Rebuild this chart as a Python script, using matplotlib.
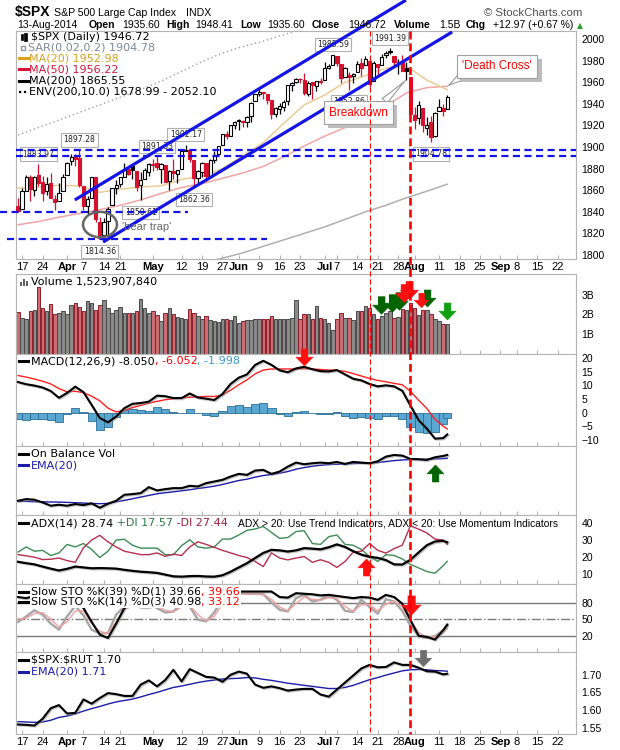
import numpy as np
import pandas as pd
import matplotlib
matplotlib.use("Agg")
import matplotlib.pyplot as plt
from matplotlib.lines import Line2D
from matplotlib.patches import Ellipse, Rectangle
import matplotlib.patheffects as pe

plt.rcParams['font.family'] = ['Liberation Sans', 'DejaVu Sans']

# ---------------- data ----------------
holidays = ['2014-04-18', '2014-05-26', '2014-07-04', '2014-09-01']
axis_start, axis_end = '2014-03-14', '2014-09-26'

tick_dates = ["2014-03-17", "2014-03-24", "2014-04-01", "2014-04-07", "2014-04-14", "2014-04-21",
              "2014-05-01", "2014-05-12", "2014-05-19", "2014-05-27", "2014-06-02", "2014-06-09",
              "2014-06-16", "2014-06-23", "2014-07-01", "2014-07-07", "2014-07-14", "2014-07-21",
              "2014-07-28", "2014-08-01", "2014-08-11", "2014-08-18", "2014-08-25", "2014-09-02",
              "2014-09-08", "2014-09-15", "2014-09-22"]
tick_labels = ["17", "24", "Apr", "7", "14", "21", "May", "12", "19", "27", "Jun", "9", "16", "23",
               "Jul", "7", "14", "21", "28", "Aug", "11", "18", "25", "Sep", "8", "15", "22"]
month_labels = {"Apr", "May", "Jun", "Jul", "Aug", "Sep"}

prev_close0 = 1846.34
opens = [1845.07, 1842.81, 1858.92, 1872.25, 1860.09, 1874.53, 1867.67, 1859.48, 1867.09, 1852.11,
         1850.07, 1859.16, 1873.96, 1886.61, 1891.43, 1890.25, 1863.92, 1845.48, 1852.64, 1872.28,
         1830.65, 1818.18, 1831.45, 1846.01, 1861.73, 1865.79, 1872.57, 1879.32, 1881.97, 1877.72,
         1865.00, 1870.78, 1877.10, 1884.39, 1885.30, 1879.45, 1883.69, 1868.53, 1877.39, 1875.27,
         1880.03, 1896.75, 1897.13, 1888.16, 1871.19, 1876.66, 1884.88, 1873.34, 1888.19, 1893.32,
         1902.01, 1911.77, 1910.60, 1920.33, 1923.87, 1923.07, 1923.06, 1928.52, 1942.41, 1948.97,
         1950.34, 1949.37, 1943.35, 1930.80, 1934.84, 1937.15, 1942.73, 1957.50, 1960.45, 1962.92,
         1961.97, 1949.27, 1959.89, 1956.56, 1960.79, 1962.29, 1973.06, 1975.88, 1984.22, 1976.39,
         1965.10, 1966.67, 1965.76, 1969.86, 1977.36, 1976.35, 1979.75, 1961.54, 1976.93, 1975.65,
         1985.32, 1988.07, 1984.60, 1978.25, 1980.03, 1973.21, 1965.14, 1929.80, 1926.62, 1936.34,
         1917.29, 1923.03, 1910.35, 1933.43, 1935.73, 1935.60]
highs = [1852.44, 1862.30, 1873.76, 1874.14, 1873.49, 1883.97, 1873.34, 1871.87, 1875.92, 1855.55,
         1866.63, 1875.18, 1885.84, 1893.17, 1893.80, 1897.28, 1864.04, 1854.95, 1872.43, 1872.53,
         1835.07, 1834.19, 1844.02, 1862.31, 1869.63, 1871.89, 1884.89, 1879.75, 1884.06, 1877.72,
         1877.01, 1880.60, 1885.20, 1888.59, 1891.33, 1885.51, 1883.69, 1878.83, 1889.07, 1878.57,
         1897.13, 1902.17, 1897.13, 1888.16, 1878.28, 1886.00, 1884.88, 1888.80, 1896.33, 1901.26,
         1912.28, 1914.46, 1920.03, 1924.03, 1925.88, 1925.07, 1928.63, 1941.74, 1949.44, 1955.55,
         1950.86, 1949.37, 1943.35, 1937.30, 1941.15, 1943.69, 1957.74, 1959.87, 1963.91, 1963.74,
         1968.17, 1960.83, 1959.89, 1961.47, 1964.24, 1978.58, 1976.67, 1985.59, 1984.22, 1976.39,
         1974.15, 1969.84, 1968.67, 1979.85, 1982.52, 1983.94, 1981.80, 1979.91, 1976.93, 1986.24,
         1989.23, 1991.39, 1984.60, 1981.52, 1984.85, 1978.90, 1965.14, 1937.35, 1942.92, 1936.34,
         1927.91, 1928.89, 1932.38, 1944.90, 1939.65, 1948.41]
lows = [1839.57, 1842.81, 1858.92, 1850.35, 1854.63, 1863.46, 1849.69, 1855.96, 1852.56, 1842.11,
        1850.07, 1859.16, 1873.96, 1883.79, 1882.65, 1863.26, 1841.48, 1837.49, 1852.38, 1830.87,
        1814.36, 1815.80, 1816.29, 1846.01, 1856.72, 1863.18, 1872.57, 1873.91, 1870.24, 1859.70,
        1850.61, 1870.78, 1872.69, 1878.04, 1878.50, 1866.77, 1867.72, 1859.79, 1870.05, 1867.02,
        1880.03, 1896.06, 1885.77, 1862.36, 1864.82, 1872.42, 1868.14, 1873.34, 1885.39, 1893.32,
        1902.01, 1907.30, 1909.82, 1916.64, 1915.98, 1918.79, 1918.60, 1922.93, 1942.41, 1947.16,
        1944.64, 1940.08, 1925.78, 1927.69, 1930.91, 1933.55, 1939.29, 1952.26, 1959.17, 1958.89,
        1948.34, 1947.49, 1944.69, 1952.18, 1958.22, 1962.29, 1972.58, 1975.88, 1974.88, 1959.46,
        1965.10, 1952.86, 1959.63, 1969.86, 1965.34, 1975.67, 1955.59, 1960.82, 1965.77, 1975.65,
        1982.44, 1985.79, 1974.37, 1967.31, 1969.95, 1962.42, 1930.67, 1916.37, 1921.20, 1913.77,
        1911.45, 1904.78, 1909.01, 1933.43, 1928.29, 1935.60]
closes = [1841.13, 1858.83, 1872.25, 1860.77, 1872.01, 1866.52, 1857.44, 1865.62, 1852.56, 1849.04,
          1857.62, 1872.34, 1885.52, 1890.90, 1888.77, 1865.09, 1845.04, 1851.96, 1872.18, 1833.08,
          1815.69, 1830.61, 1842.98, 1862.31, 1864.85, 1871.89, 1879.55, 1875.39, 1878.61, 1863.40,
          1869.43, 1878.33, 1883.95, 1883.68, 1881.14, 1884.66, 1867.72, 1878.21, 1875.63, 1878.48,
          1896.65, 1897.45, 1888.53, 1870.85, 1877.86, 1885.08, 1872.83, 1888.03, 1892.49, 1900.53,
          1911.91, 1909.78, 1920.03, 1923.57, 1924.97, 1924.24, 1927.88, 1940.46, 1949.44, 1951.27,
          1950.79, 1943.89, 1930.11, 1936.16, 1937.78, 1941.99, 1956.98, 1959.48, 1962.87, 1962.61,
          1949.98, 1959.53, 1957.22, 1960.96, 1960.23, 1973.32, 1974.62, 1985.44, 1977.65, 1963.71,
          1972.83, 1964.68, 1967.57, 1977.10, 1973.28, 1981.57, 1958.12, 1978.22, 1973.63, 1983.53,
          1987.01, 1987.98, 1978.34, 1978.91, 1969.95, 1970.07, 1930.67, 1925.15, 1938.99, 1920.21,
          1920.24, 1909.57, 1931.59, 1936.92, 1933.75, 1946.72]
volume_b = [2.13, 1.83, 1.78, 2.20, 2.25, 3.40, 2.33, 2.20, 2.55, 2.05,
            2.10, 2.17, 2.05, 2.50, 2.60, 2.40, 2.20, 2.67, 2.60, 2.25,
            2.50, 2.75, 2.33, 2.10, 2.25, 2.40, 2.10, 2.08, 2.10, 2.20,
            2.78, 2.33, 2.08, 2.17, 1.95, 1.67, 2.08, 2.33, 2.05, 1.88,
            1.83, 1.75, 2.28, 2.10, 1.92, 1.75, 1.92, 1.72, 1.67, 1.62,
            1.78, 1.75, 1.72, 1.92, 1.58, 1.67, 1.72, 1.72, 1.75, 1.75,
            1.75, 1.78, 1.92, 1.75, 1.75, 1.78, 1.78, 1.83, 2.75, 1.75,
            2.00, 2.00, 1.75, 2.42, 1.83, 1.75, 1.58, 1.22, 1.75, 2.08,
            1.83, 1.83, 1.72, 2.17, 2.17, 2.45, 2.33, 2.00, 1.75, 1.92,
            2.08, 2.17, 1.83, 1.88, 2.28, 2.22, 2.58, 2.33, 1.95, 2.22,
            2.22, 2.00, 1.78, 1.67, 1.50, 1.524]

# moving averages read every 5 trading days
ma_idx = list(range(0, 106, 5))
ma20 = [1862, 1863, 1864.5, 1864, 1858, 1861, 1863, 1864, 1870, 1873, 1880, 1892, 1904, 1922,
        1939, 1948, 1960, 1966, 1973, 1975, 1962, 1952.98]
ma50 = [1828, 1831, 1835, 1838.5, 1842, 1846, 1851, 1857, 1862.5, 1866, 1871, 1876, 1882, 1891,
        1901, 1910, 1918, 1930, 1938, 1950, 1955, 1956.22]
ma200 = [1737, 1744, 1751, 1757.5, 1764, 1770.5, 1777, 1783, 1789, 1793, 1797, 1802, 1808, 1814,
         1820, 1826, 1833, 1840, 1846, 1853, 1859, 1865.55]
env_up = [1911, 1918, 1925, 1932, 1939, 1946, 1953, 1961, 1970, 1979, 1987, 1993, 1998, 2004,
          2010, 2022, 2029, 2035, 2041, 2046, 2049, 2052.10]

# oscillators read every 2 trading days
osc_idx = list(range(0, 105, 2)) + [105]
macd = [11.2, 10.4, 9.9, 9.2, 7.9, 5.4, 7.2, 9.5, 7.5, 2.8, -2.0, -3.6, -1.5, 1.6, 3.2, 3.5, 4.0, 6.2,
        6.0, 5.3, 5.3, 7.0, 5.5, 5.1, 4.6, 6.8, 10.5, 12.8, 14.0, 17.5, 19.0, 17.5, 15.5, 14.8, 16.2,
        16.8, 15.9, 15.2, 15.1, 15.6, 14.0, 12.4, 11.8, 10.5, 9.6, 10.0, 9.6, 8.0, 2.5, -2.8, -5.9,
        -9.6, -9.4, -8.05]
macd_sig = [13.6, 13.0, 12.3, 11.5, 10.5, 8.8, 7.6, 7.8, 7.3, 6.0, 4.3, 1.6, 0.2, 0.8, 1.8, 2.6, 3.4,
            4.1, 4.7, 5.1, 5.4, 5.6, 5.8, 5.9, 5.9, 6.4, 8.2, 10.2, 12.0, 14.2, 15.6, 16.0, 16.0, 16.0,
            16.0, 16.1, 16.0, 15.8, 15.6, 15.5, 15.1, 14.3, 13.4, 12.5, 11.8, 11.3, 10.7, 10.2, 7.8,
            4.5, 1.5, -2.5, -5.0, -6.05]
obv = [4.7, 5.2, 5.0, 4.2, 3.2, 3.5, 3.2, 3.7, 3.4, 3.9, 2.6, 3.8, 4.7, 6.5, 6.7, 7.0, 8.8, 7.8, 8.2,
       8.5, 8.5, 9.2, 9.0, 10.0, 10.5, 11.0, 12.0, 12.8, 12.5, 13.8, 14.0, 12.8, 13.5, 15.0, 16.2,
       15.7, 16.0, 16.2, 16.0, 16.4, 15.8, 16.4, 16.2, 16.0, 16.6, 18.0, 18.5, 18.3, 17.3, 17.2,
       17.0, 17.8, 18.2, 18.5]
obv_ema = [4.5, 4.5, 4.4, 4.4, 4.3, 4.3, 4.2, 4.1, 4.0, 3.9, 3.8, 3.9, 4.4, 4.8, 5.3, 5.8, 6.3, 6.8,
           7.1, 7.4, 7.7, 8.0, 8.4, 8.7, 9.1, 9.6, 10.2, 10.8, 11.2, 11.8, 12.3, 12.6, 13.0, 13.5,
           14.2, 14.7, 15.1, 15.4, 15.6, 15.7, 15.8, 15.9, 16.0, 16.1, 16.2, 16.5, 16.8, 17.0, 17.1,
           17.2, 17.2, 17.3, 17.4, 17.5]
adx = [17.3, 16.5, 15.8, 14.5, 13.3, 12.2, 13.2, 14.5, 14.0, 13.5, 13.6, 13.5, 13.3, 12.6, 12.0,
       11.5, 11.2, 10.8, 9.8, 8.8, 8.6, 8.9, 9.0, 8.7, 8.6, 9.4, 11.5, 14.0, 16.5, 19.5, 22.5, 24.3,
       24.0, 23.3, 24.0, 25.3, 25.0, 24.6, 25.8, 27.5, 26.0, 23.5, 21.5, 20.2, 19.6, 18.3, 15.8,
       15.7, 18.5, 22.8, 27.0, 29.2, 29.6, 28.74]
plus_di = [23.0, 26.0, 23.5, 24.0, 21.0, 22.5, 27.5, 26.0, 28.0, 24.5, 19.8, 23.5, 30.0, 30.5, 27.0,
           25.3, 25.3, 25.3, 21.5, 21.4, 26.7, 30.2, 26.0, 25.3, 26.0, 30.6, 30.6, 33.0, 35.7, 36.5,
           38.0, 34.5, 31.0, 31.5, 35.0, 35.5, 28.0, 27.5, 32.0, 33.0, 27.5, 27.0, 24.5, 20.4, 17.5,
           21.5, 21.0, 19.0, 15.8, 13.7, 11.6, 10.6, 15.0, 17.57]
minus_di = [21.5, 20.8, 20.0, 18.6, 18.8, 19.5, 18.0, 17.0, 25.5, 30.0, 32.8, 29.0, 26.0, 23.5, 22.5,
            21.5, 21.5, 22.5, 20.5, 21.8, 21.0, 26.0, 29.0, 27.5, 25.8, 24.0, 22.5, 21.0, 19.8, 17.5,
            14.5, 22.5, 19.5, 18.4, 19.5, 20.4, 17.0, 18.5, 17.0, 14.0, 17.5, 23.0, 23.5, 28.0, 24.0,
            22.4, 25.0, 27.0, 38.4, 36.4, 34.2, 30.6, 30.0, 27.44]
sto_k39 = [90, 88, 92, 90, 86, 84, 92, 90, 70, 45, 22, 16, 42, 70, 78, 72, 72, 86, 88, 84, 80, 82, 82,
           82, 88, 95, 100, 100, 100, 100, 100, 100, 90, 89, 97, 96, 95, 93, 94, 92, 90, 88, 90, 89,
           85, 94, 90, 78, 48, 20, 18, 13, 30, 39.66]
sto_k14 = [45, 55, 66, 58, 42, 31, 55, 74, 57, 31, 24, 25, 58, 73, 85, 86, 80, 70, 62, 64, 78, 73, 49,
           46, 62, 87, 95, 97, 96, 96, 95, 80, 67, 64, 88, 94, 82, 85, 93, 85, 65, 63, 85, 72, 60, 86,
           82, 65, 38, 19, 16, 19, 30, 40.98]
sto_d3 = [50, 52, 60, 62, 50, 36, 45, 65, 65, 42, 28, 24, 45, 67, 80, 85, 82, 74, 66, 63, 72, 75, 58,
          47, 55, 78, 91, 96, 96, 96, 95, 86, 72, 65, 78, 90, 86, 84, 89, 87, 73, 64, 76, 76, 65, 77,
          83, 72, 47, 26, 17, 18, 25, 33.12]
ratio = [1.559, 1.558, 1.556, 1.575, 1.605, 1.614, 1.590, 1.592, 1.630, 1.618, 1.634, 1.648, 1.645,
         1.640, 1.640, 1.672, 1.684, 1.667, 1.685, 1.714, 1.681, 1.716, 1.705, 1.694, 1.692, 1.680,
         1.700, 1.709, 1.703, 1.672, 1.663, 1.667, 1.662, 1.655, 1.658, 1.660, 1.660, 1.644, 1.638,
         1.658, 1.678, 1.698, 1.718, 1.728, 1.721, 1.722, 1.735, 1.728, 1.728, 1.720, 1.710, 1.709,
         1.701, 1.703]
ratio_ema = [1.567, 1.566, 1.565, 1.566, 1.571, 1.579, 1.583, 1.589, 1.597, 1.604, 1.610, 1.617, 1.623,
             1.627, 1.631, 1.637, 1.644, 1.650, 1.657, 1.664, 1.668, 1.673, 1.678, 1.682, 1.685,
             1.688, 1.689, 1.690, 1.692, 1.691, 1.687, 1.684, 1.680, 1.676, 1.673, 1.670, 1.667,
             1.664, 1.661, 1.661, 1.664, 1.670, 1.678, 1.686, 1.692, 1.699, 1.705, 1.711, 1.714,
             1.715, 1.714, 1.712, 1.711, 1.710]

# annotation anchors
label_points = [(5, 'H'), (15, 'H'), (34, 'H'), (41, 'H'), (30, 'L'), (43, 'L'), (20, 'L'),
                (77, 'H'), (91, 'H'), (81, 'L'), (101, 'L')]
chan_upper = ([13.9, 94.9], [1851, 2036])
chan_lower = ([20.8, 106.2], [1812, 2006.5])
event_thin, event_thick = 86.1, 95.9

# ---------------- setup ----------------
opens, highs, lows, closes = map(np.array, (opens, highs, lows, closes))
volume_b = np.array(volume_b)
assert len(opens) == len(highs) == len(lows) == len(closes) == len(volume_b) == 106

days = pd.bdate_range(axis_start, axis_end)
days = days[~days.isin(pd.to_datetime(holidays))]
pos_of = {d: k for k, d in enumerate(days)}
tick_pos = [pos_of[pd.Timestamp(d)] for d in tick_dates]
NX = len(days)

W, H = 620, 750
fig = plt.figure(figsize=(6.2, 7.5), dpi=100)
fig.patch.set_facecolor('white')
LEG = 'DejaVu Sans'


def fx(x):
    return x / W


def fy(y):
    return 1 - y / H


def ftext(x, y, s, **kw):
    kw.setdefault('va', 'center')
    return fig.text(fx(x), fy(y), s, **kw)


renderer = fig.canvas.get_renderer()


def rich(x, y, parts, size=8, bg=False, family=LEG):
    cur = x
    for s, c in parts:
        kw = dict(color=c, fontsize=size, family=family, va='center', ha='left', zorder=6)
        if bg:
            kw['bbox'] = dict(fc='white', ec='none', pad=0.6)
        t = ftext(cur, y, s, **kw)
        cur += t.get_window_extent(renderer=renderer).width
    return cur


def icon(y, color, ls='-', lw=2.2):
    fig.add_artist(Line2D([fx(19), fx(28)], [fy(y), fy(y)], color=color, lw=lw, ls=ls,
                          transform=fig.transFigure, zorder=7))


def panel(top, bottom):
    ax = fig.add_axes([16 / W, 1 - bottom / H, 560 / W, (bottom - top) / H])
    ax.set_xlim(-0.5, NX - 0.5)
    for s in ax.spines.values():
        s.set_color('#b4b4b4')
        s.set_linewidth(0.8)
    ax.yaxis.tick_right()
    ax.tick_params(axis='y', length=0, pad=4, labelsize=7.5)
    ax.set_xticks(tick_pos)
    ax.tick_params(axis='x', direction='in', length=3, color='#b4b4b4', labelbottom=False)
    return ax


shadow = [pe.SimpleLineShadow(offset=(0.8, -0.8), shadow_color='#888888', alpha=0.5), pe.Normal()]

ax_p = panel(31, 259)
ax_v = panel(274, 354)
ax_m = panel(354, 446)
ax_o = panel(446, 515)
ax_a = panel(515, 584)
ax_s = panel(584, 652)
ax_r = panel(652, 734)

for ax in (ax_p, ax_r):
    ax.set_xticklabels(tick_labels)
    ax.tick_params(axis='x', labelbottom=True, labelsize=8, pad=2)
    for lab in ax.get_xticklabels():
        if lab.get_text() in month_labels:
            lab.set_fontweight('bold')

x = np.arange(len(closes))
prev = np.r_[prev_close0, closes[:-1]]
up_day = closes >= prev
RED = '#d4122f'
col = np.where(up_day, 'black', RED)
hollow = closes > opens

# ---------------- price panel ----------------
ax_p.set_ylim(1796.3, 2007.4)
ax_p.set_yticks(np.arange(1800, 2001, 20))
ax_p.plot(ma_idx, env_up, color='#a0a0a0', lw=1.0, ls=(0, (1, 2)), zorder=1)
ax_p.plot(ma_idx, ma200, color='#b0b0b0', lw=1.1, zorder=1)
ax_p.plot(ma_idx, ma50, color='#f2a5a5', lw=1.1, zorder=1)
ax_p.plot(ma_idx, ma20, color='#e9cc96', lw=1.1, zorder=1)
ax_p.vlines(x, lows, highs, colors=col, lw=0.9, zorder=3)
bottoms = np.minimum(opens, closes)
heights = np.maximum(np.abs(closes - opens), 0.5)
face = ['white' if h else c for h, c in zip(hollow, col)]
ax_p.bar(x, heights, bottom=bottoms, width=0.8, color=face, edgecolor=col, linewidth=0.8, zorder=4)

for i, kind in label_points:
    val = highs[i] if kind == 'H' else lows[i]
    dy = 10 if kind == 'H' else -12
    ax_p.annotate(f"{val:.2f}", xy=(i, val), xytext=(0, dy), textcoords='offset pixels',
                  ha='center', va='center', fontsize=5.6, family=LEG, color='#222222', zorder=5,
                  bbox=dict(boxstyle='square,pad=0.3', fc='white', ec='#b0b0b0', lw=0.8))

BLUE = '#1414e6'
for lvl in (highs[15], highs[34]):
    ax_p.axhline(lvl, color=BLUE, lw=1.6, ls=(0, (3.2, 2.0)), zorder=6)
ax_p.plot([-4.4, 41.6], [lows[0], lows[0]], color=BLUE, lw=1.6, ls=(0, (3.2, 2.0)), zorder=6, clip_on=False)
ax_p.plot([-2.7, 60.9], [lows[20], lows[20]], color=BLUE, lw=1.6, ls=(0, (3.2, 2.0)), zorder=6, clip_on=False)
ax_p.plot(*chan_upper, color=BLUE, lw=2.3, zorder=6, clip_on=False, solid_capstyle='butt')
ax_p.plot(*chan_lower, color=BLUE, lw=2.3, zorder=6, clip_on=False, solid_capstyle='butt')

ax_p.add_patch(Ellipse((20.05, 1828.2), 8.3, 23.5, fill=False, ec='#666666', lw=1.8, zorder=7))
ax_p.text(31.5, 1825.5, "'bear trap'", color='#666666', fontsize=8, ha='center', va='center', zorder=7)

for txt, xy, off, rel in (("Breakdown", (95, lows[95]), (-48, -33), (0.85, 1.0)),
                          ("'Death Cross'", (105, ma50[-1]), (50, 20), (0.08, 0.0))):
    ann = ax_p.annotate(txt, xy=xy, xytext=off, textcoords='offset pixels', ha='center', va='center',
                        fontsize=8.5, color='#ff0000', zorder=8,
                        bbox=dict(boxstyle='square,pad=0.45', fc='white', ec='#a0a0a0', lw=0.8),
                        arrowprops=dict(arrowstyle='wedge,tail_width=0.6,shrink_factor=0.4', fc='white',
                                        ec='#9a9a9a', lw=0.8, relpos=rel, shrinkA=0, shrinkB=1))
    ann.get_bbox_patch().set_path_effects(
        [pe.withSimplePatchShadow(offset=(3, -3), shadow_rgbFace='#bdbdbd', alpha=1.0)])

# ---------------- volume ----------------
ax_v.set_ylim(0, 4.05)
ax_v.set_yticks([1, 2, 3])
ax_v.set_yticklabels(['1B', '2B', '3B'])
ax_v.bar(x, volume_b, width=0.85, color=np.where(up_day, '#8a8a8a', '#cc6d73'),
         edgecolor=np.where(up_day, '#4a4a4a', '#8e1f2a'), linewidth=0.7, zorder=2)

# ---------------- MACD ----------------
ax_m.set_ylim(-12.3, 21.5)
ax_m.set_yticks([-10, -5, 0, 5, 10, 15, 20])
hist = np.array(macd) - np.array(macd_sig)
ax_m.bar(osc_idx, hist, width=2.0, color='#5aa7d2', edgecolor='#2b6f99', linewidth=0.6, zorder=2)
ax_m.plot(osc_idx, macd_sig, color='#ff2020', lw=1.0, zorder=3)
ax_m.plot(osc_idx, macd, color='black', lw=1.5, zorder=4, path_effects=shadow)

# ---------------- OBV ----------------
ax_o.set_ylim(0.4, 21.2)
ax_o.set_yticks([])
ax_o.plot(osc_idx, obv_ema, color='#1c1ca8', lw=1.0, zorder=3)
ax_o.plot(osc_idx, obv, color='black', lw=1.5, zorder=4, path_effects=shadow)

# ---------------- ADX ----------------
ax_a.set_ylim(4.3, 44.7)
ax_a.set_yticks([10, 20, 30, 40])
ax_a.plot(osc_idx, plus_di, color='#3d8c55', lw=1.0, zorder=3)
ax_a.plot(osc_idx, minus_di, color='#b5304e', lw=1.0, zorder=3)
ax_a.plot(osc_idx, adx, color='black', lw=1.6, zorder=4, path_effects=shadow)

# ---------------- Slow STO ----------------
ax_s.set_ylim(-9.4, 113.6)
ax_s.set_yticks([20, 50, 80])
for lvl, ls in ((80, '-'), (20, '-'), (50, '-.')):
    ax_s.axhline(lvl, color='#7a7a7a', lw=1.0, ls=ls, zorder=1)
ax_s.plot(osc_idx, sto_k14, color='#a5a5a5', lw=1.7, zorder=2)
ax_s.plot(osc_idx, sto_d3, color='#f3a0a0', lw=1.0, zorder=3)
ax_s.plot(osc_idx, sto_k39, color='black', lw=1.5, zorder=4, path_effects=shadow)

# ---------------- SPX:RUT ----------------
ax_r.set_ylim(1.532, 1.7645)
ax_r.set_yticks([1.55, 1.60, 1.65, 1.70])
ax_r.set_yticklabels([f"{v:.2f}" for v in (1.55, 1.60, 1.65, 1.70)])
ax_r.plot(osc_idx, ratio_ema, color='#1c1ca8', lw=1.0, zorder=3)
ax_r.plot(osc_idx, ratio, color='black', lw=1.5, zorder=4, path_effects=shadow)

# ---------------- signal arrows ----------------
arrow_dn = [(-0.2, 0.5), (0.2, 0.5), (0.2, 0.02), (0.5, 0.02), (0.0, -0.5), (-0.5, 0.02), (-0.2, 0.02)]
arrow_up = [(vx, -vy) for vx, vy in arrow_dn]
arrows = [
    (ax_v, 88.9, 2.50, '#006400', arrow_dn, 160), (ax_v, 91.4, 2.58, '#006400', arrow_dn, 160),
    (ax_v, 93.3, 2.67, '#006400', arrow_dn, 160), (ax_v, 100.1, 2.83, '#006400', arrow_dn, 150),
    (ax_v, 94.3, 3.08, '#ff1010', arrow_dn, 170), (ax_v, 95.7, 3.25, '#ff1010', arrow_dn, 170),
    (ax_v, 98.6, 2.75, '#ff1010', arrow_dn, 110), (ax_v, 104.9, 2.17, '#10a010', arrow_dn, 150),
    (ax_m, 70.0, 20.4, '#ff1010', arrow_dn, 150),
    (ax_o, 102.0, 13.0, '#006400', arrow_up, 150),
    (ax_a, 85.1, 14.5, '#ff1010', arrow_up, 150),
    (ax_s, 96.2, 75.8, '#ff1010', arrow_dn, 190),
    (ax_r, 99.1, 1.747, '#6e6e6e', arrow_dn, 140),
]
for ax, ax_x, ax_y, c, m, s in arrows:
    ax.scatter([ax_x], [ax_y], marker=m, s=s, color=c, edgecolors=c, linewidths=0.4, zorder=9, clip_on=False)

# ---------------- event lines ----------------
inv = fig.transFigure.inverted()
for ev, lw, dash in ((event_thin, 0.8, (0, (4.5, 2.7))), (event_thick, 1.9, (0, (3.0, 1.5)))):
    xf = inv.transform(ax_p.transData.transform((ev, 1900)))[0]
    fig.add_artist(Line2D([xf, xf], [fy(31), fy(734)], color='#ff0000', lw=lw, ls=dash,
                          transform=fig.transFigure, zorder=10))

# ---------------- header ----------------
ftext(15, 12, r"\$SPX", fontsize=10, fontweight='bold')
ftext(54, 12.5, "S&P 500 Large Cap Index", fontsize=7.6)
ftext(186, 12.5, "INDX", fontsize=7.6)
ftext(582, 13, "\u00a9 StockCharts.com", fontsize=8.2, ha='right', color='#505050')
for hx, s, bold in ((17, "13-Aug-2014", False), (89, "Open", True), (122, "1935.60", False),
                    (166, "High", True), (195, "1948.41", False), (240, "Low", True),
                    (267, "1935.60", False), (312, "Close", True), (348, "1946.72", False),
                    (394, "Volume", True), (439, "1.5B", False), (466, "Chg", True),
                    (493, "+12.97 (+0.67 %)", False)):
    ftext(hx, 25.5, s, fontsize=7.5, fontweight='bold' if bold else 'normal')
ftext(577, 26, "\u25b2", fontsize=5.5, color='#2a9d2a', family=LEG)

# ---------------- legends ----------------
# price
for bx, hgt in ((20.5, 6), (24.5, 8)):
    fig.add_artist(Rectangle((fx(bx), fy(36.7 + hgt / 2)), 2.5 / W, hgt / H, fc='black', ec='black',
                             lw=0.5, transform=fig.transFigure, zorder=7))
rich(31, 36.7, [(r"\$SPX (Daily) 1946.72", 'black')])
fig.add_artist(Rectangle((fx(21), fy(50)), 4 / W, 4 / H, fc='white', ec='#8a96a3', lw=1,
                         transform=fig.transFigure, zorder=7))
rich(28, 47.7, [("SAR(0.02,0.2) 1904.78", '#7d8a97')])
icon(58.3, '#d9a21b')
rich(29, 58.3, [("MA(20) 1952.98", '#d9a21b')])
icon(69.3, '#d6163a')
rich(29, 69.3, [("MA(50) 1956.22", '#d6163a')])
icon(80.7, 'black')
rich(29, 80.7, [("MA(200) 1865.55", 'black')])
icon(91.7, 'black', ls=(0, (1, 1.2)), lw=1.6)
rich(29, 91.7, [("ENV(200,10.0) 1678.99 - 2052.10", 'black')])

# volume
for bx, hgt in ((20, 4), (23, 7), (26, 5)):
    fig.add_artist(Rectangle((fx(bx), fy(286)), 2 / W, hgt / H, fc='#606060', ec='none',
                             transform=fig.transFigure, zorder=7))
rich(31, 282, [("Volume 1,523,907,840", 'black')])
# MACD
icon(361, 'black')
rich(31, 361, [("MACD(12,26,9) -8.050", 'black'), (", -6.052", '#ff0000'), (", -1.998", '#3a9ad0')])
# OBV
icon(454, 'black')
rich(31, 454, [("On Balance Vol", 'black')])
icon(465, '#1c1ca8')
rich(31, 465, [("EMA(20)", '#1c1ca8')])
# ADX
icon(523, 'black')
rich(31, 523, [("ADX(14) 28.74", 'black'), (" +DI 17.57", '#2e7d45'), (" -DI 27.44", '#a0203a')])
ftext(238, 523, "ADX > 20: Use Trend Indicators, ADX < 20: Use Momentum Indicators", fontsize=7.4, zorder=6)
# STO
rich(31, 592, [("Slow STO %K(39) %D(1) 39.66", 'black'), (", 39.66", '#ff0000')], bg=True)
rich(31, 602, [("Slow STO %K(14) %D(3) 40.98", 'black'), (", 33.12", '#ff0000')], bg=True)
icon(592, 'black')
icon(602, 'black')
# ratio
rich(31, 660, [(r"\$SPX:\$RUT 1.70", 'black')], bg=True)
rich(31, 672, [("EMA(20) 1.71", '#1c1ca8')], bg=True)
icon(660, 'black')
icon(672, '#1c1ca8')

fig.savefig("out.png", dpi=100, facecolor='white')
